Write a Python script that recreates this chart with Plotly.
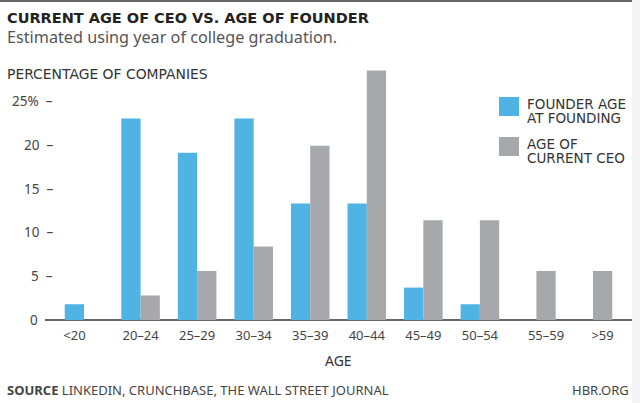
import plotly.graph_objects as go

categories = ["<20", "20–24", "25–29", "30–34", "35–39", "40–44", "45–49", "50–54", "55–59", ">59"]
founder = [1.8, 23.0, 19.1, 23.0, 13.3, 13.3, 3.7, 1.8, 0, 0]
ceo = [0, 2.8, 5.6, 8.4, 19.9, 28.5, 11.4, 11.4, 5.6, 5.6]
y_ticks = [0, 5, 10, 15, 20, 25]
y_labels = ["0", "5", "10", "15", "20", "25%"]

BLUE = "#4fb4e4"
GRAY = "#a7a8ab"
FONT = "Noto Sans"
WIDE = "DejaVu Sans"

xs = list(range(len(categories)))
# label position: centred on the visible bars of each group
tickpos = []
for i, (f, c) in enumerate(zip(founder, ceo)):
    if f > 0 and c > 0:
        tickpos.append(i)
    elif f > 0:
        tickpos.append(i - 0.17)
    else:
        tickpos.append(i + 0.17)

fig = go.Figure()
fig.add_bar(x=xs, y=founder, marker_color=BLUE, marker_line_width=0, name="FOUNDER AGE AT FOUNDING")
fig.add_bar(x=xs, y=ceo, marker_color=GRAY, marker_line_width=0, name="AGE OF CURRENT CEO")

W, H = 640, 403
L, R, T, B = 45, 8, 66, 83
pw = W - L - R

def pap_x(px):
    return (px - L) / pw

def pap_y(py):
    return (H - B - py) / (H - T - B)

annotations = []
for v, lab in zip(y_ticks, y_labels):
    if v == 0:
        annotations.append(dict(x=pap_x(40), y=v, xref="paper", yref="y", text=lab,
                                showarrow=False, xanchor="right", yanchor="middle",
                                font=dict(family=FONT, size=13.5, color="#444")))
    else:
        annotations.append(dict(x=pap_x(55), y=v, xref="paper", yref="y", text=lab + "  –",
                                showarrow=False, xanchor="right", yanchor="middle",
                                font=dict(family=FONT, size=13.5, color="#444")))

texts = [
    (5, 8, "<b>CURRENT AGE OF CEO VS. AGE OF FOUNDER</b>", 14.5, "#222", WIDE),
    (5, 24, "Estimated using year of college graduation.", 16.2, "#555", FONT),
    (5, 64, "PERCENTAGE OF COMPANIES", 13.9, "#333", WIDE),
    (5, 379, "<b>SOURCE</b> LINKEDIN, CRUNCHBASE, THE WALL STREET JOURNAL", 13, "#444", FONT),
]
for x, y, t, s, c, f in texts:
    annotations.append(dict(x=pap_x(x), y=pap_y(y), xref="paper", yref="paper", text=t,
                            showarrow=False, xanchor="left", yanchor="top",
                            font=dict(family=f, size=s, color=c)))
annotations.append(dict(x=pap_x(631), y=pap_y(379), xref="paper", yref="paper", text="HBR.ORG",
                        showarrow=False, xanchor="right", yanchor="top",
                        font=dict(family=FONT, size=13, color="#444")))
annotations.append(dict(x=0.5, y=pap_y(349), xref="paper", yref="paper", text="AGE",
                        showarrow=False, xanchor="center", yanchor="top",
                        font=dict(family=FONT, size=14, color="#333")))
# legend texts
for y0, t in [(94, "FOUNDER AGE"), (108, "AT FOUNDING"), (134, "AGE OF"), (148, "CURRENT CEO")]:
    annotations.append(dict(x=pap_x(525), y=pap_y(y0), xref="paper", yref="paper", text=t,
                            showarrow=False, xanchor="left", yanchor="top",
                            font=dict(family=WIDE, size=13.5, color="#333")))

shapes = [
    dict(type="rect", xref="paper", yref="paper", x0=pap_x(499), x1=pap_x(519), y0=pap_y(116), y1=pap_y(97),
         fillcolor=BLUE, line_width=0),
    dict(type="rect", xref="paper", yref="paper", x0=pap_x(499), x1=pap_x(519), y0=pap_y(156), y1=pap_y(137),
         fillcolor=GRAY, line_width=0),
    dict(type="line", xref="paper", yref="paper", x0=pap_x(0), x1=pap_x(632), y0=pap_y(1), y1=pap_y(1),
         line=dict(color="#666", width=2)),
    dict(type="rect", xref="paper", yref="paper", x0=pap_x(632), x1=pap_x(640), y0=pap_y(403), y1=pap_y(0),
         fillcolor="#f3f3f3", line_width=0, layer="below"),
]

fig.update_layout(
    width=W, height=H,
    margin=dict(l=L, r=R, t=T, b=B),
    paper_bgcolor="white", plot_bgcolor="white",
    barmode="group", bargap=0.318, bargroupgap=0,
    showlegend=False,
    annotations=annotations,
    shapes=shapes,
    xaxis=dict(range=[-0.69, 9.69], tickvals=tickpos, ticktext=categories,
               showgrid=False, zeroline=False, showline=False, ticks="", ticklabelstandoff=6,
               tickfont=dict(family=FONT, size=13, color="#444"), fixedrange=True),
    yaxis=dict(range=[0, 29.0], showgrid=False, zeroline=True, zerolinecolor="#666", zerolinewidth=2,
               showticklabels=False, ticks="", showline=False, fixedrange=True),
)

fig.write_html("out.html", config={"displayModeBar": False},
               post_script="document.body.style.margin='0';document.body.style.padding='0';")
